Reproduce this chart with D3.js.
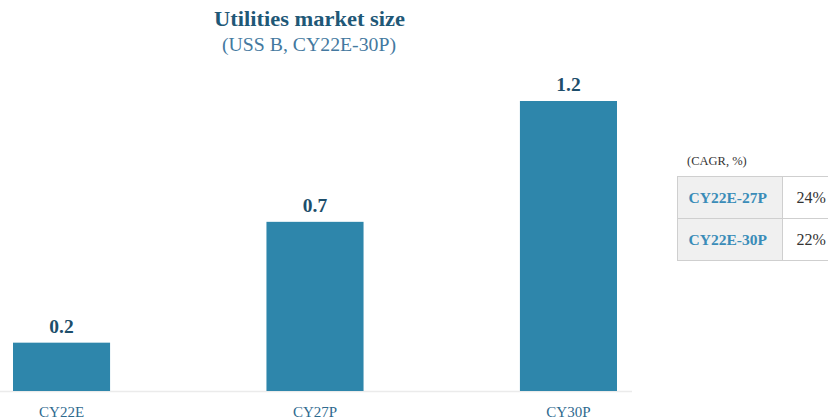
<!DOCTYPE html>
<html><head><meta charset="utf-8">
<script src="https://cdn.jsdelivr.net/npm/d3@7"></script>
<style>body{margin:0;background:#fff;} svg{display:block;}</style>
</head><body>
<svg id="c" width="828" height="419"></svg>
<script>
const categories = ["CY22E", "CY27P", "CY30P"];
const values = [0.2, 0.7, 1.2];
const valueLabels = ["0.2", "0.7", "1.2"];
const cagrPeriods = ["CY22E-27P", "CY22E-30P"];
const cagrValues = ["24%", "22%"];
const title = "Utilities market size";
const subtitle = "(USS B, CY22E-30P)";
const tableCaption = "(CAGR, %)";

const svg = d3.select("#c");
const serif = "Liberation Serif, Times New Roman, serif";
const x = d3.scaleBand().domain(categories).range([13, 617]).paddingInner(0.617).paddingOuter(0);
const y = d3.scaleLinear().domain([0, 1.2]).range([391, 101]);

svg.append("text").attr("x", 309.5).attr("y", 26).attr("text-anchor", "middle")
  .attr("font-family", serif).attr("font-weight", "bold").attr("font-size", 21)
  .attr("textLength", 191).attr("lengthAdjust", "spacingAndGlyphs")
  .attr("fill", "#1f5877").text(title);
svg.append("text").attr("x", 309).attr("y", 51).attr("text-anchor", "middle")
  .attr("font-family", serif).attr("font-size", 18)
  .attr("textLength", 174).attr("lengthAdjust", "spacingAndGlyphs")
  .attr("fill", "#4479a0").text(subtitle);

svg.append("line").attr("x1", 0).attr("x2", 632).attr("y1", y(0) + 0.5).attr("y2", y(0) + 0.5)
  .attr("stroke", "#ebebeb").attr("stroke-width", 1.5);

svg.selectAll("rect.bar").data(values).join("rect").attr("class", "bar")
  .attr("x", (d, i) => x(categories[i])).attr("width", x.bandwidth())
  .attr("y", d => y(d)).attr("height", d => y(0) - y(d))
  .attr("fill", "#2e86ab");

svg.selectAll("text.val").data(values).join("text").attr("class", "val")
  .attr("x", (d, i) => x(categories[i]) + x.bandwidth() / 2).attr("y", d => y(d) - 10)
  .attr("text-anchor", "middle").attr("font-family", serif).attr("font-weight", "bold")
  .attr("font-size", 19.5).attr("fill", "#1d4e6b").text((d, i) => valueLabels[i]);

const xAxis = d3.axisBottom(x).tickSize(0).tickPadding(0);
const gx = svg.append("g").attr("transform", `translate(0,${y(0)})`).call(xAxis);
gx.select(".domain").remove();
gx.selectAll("text").attr("dy", 0).attr("y", 26).attr("font-family", serif)
  .attr("font-size", 15).attr("fill", "#2f6a8f");

// CAGR table
svg.append("text").attr("x", 687).attr("y", 165).attr("font-family", serif)
  .attr("font-size", 12.5).attr("fill", "#333").text(tableCaption);
const tX = 677, tY = 176, rowH = 42, c1W = 105, c2W = 60;
const rows = svg.selectAll("g.row").data(cagrPeriods).join("g").attr("class", "row")
  .attr("transform", (d, i) => `translate(${tX + 0.5},${tY + 0.5 + i * rowH})`);
rows.append("rect").attr("width", c1W).attr("height", rowH).attr("fill", "#f0f0f0")
  .attr("stroke", "#cfcfcf");
rows.append("rect").attr("x", c1W).attr("width", c2W).attr("height", rowH).attr("fill", "#fff")
  .attr("stroke", "#cfcfcf");
rows.append("text").attr("x", 11).attr("y", rowH / 2 + 5.5).attr("font-family", serif)
  .attr("font-weight", "bold").attr("font-size", 15.5).attr("fill", "#3a8cb8").text(d => d);
rows.append("text").attr("x", c1W + 14).attr("y", rowH / 2 + 5.5).attr("font-family", serif)
  .attr("font-size", 16).attr("fill", "#333").text((d, i) => cagrValues[i]);
</script>
</body></html>
